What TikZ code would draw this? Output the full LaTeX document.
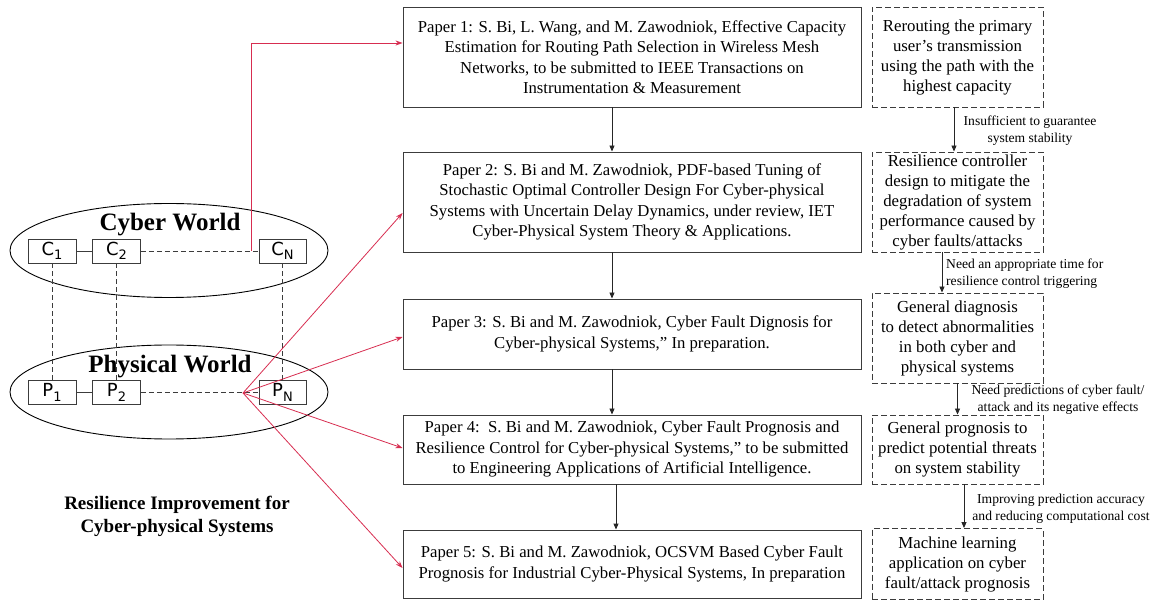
\documentclass[tikz,border=0pt]{standalone}
\usepackage{fontspec}
\setmainfont{Liberation Serif}
\newfontfamily\labelsans{DejaVu Sans}
\usetikzlibrary{arrows.meta,shapes.geometric}

% lowered index for the node names C_i, P_i
\newcommand{\lowidx}[1]{\raisebox{-0.45ex}{\fontsize{13}{13}\selectfont #1}}

\definecolor{boxline}{RGB}{60,60,60}
\definecolor{linkred}{RGB}{215,45,80}

\tikzset{
  paper/.style={draw=boxline, line width=0.9pt, minimum width=458pt, align=center,
    inner sep=0pt, font=\fontsize{16.7}{20.5}\selectfont},
  note/.style={draw=boxline, line width=0.9pt, dash pattern=on 6pt off 3pt,
    minimum width=171pt, align=center, inner sep=0pt, font=\fontsize{16.8}{20}\selectfont},
  cell/.style={draw=boxline, line width=0.9pt, minimum width=48pt, minimum height=24pt,
    inner sep=0pt, font=\labelsans\fontsize{18}{18}\selectfont},
  world/.style={draw=black, line width=0.9pt, ellipse, minimum width=318pt,
    minimum height=94pt, inner sep=0pt},
  worldname/.style={font=\bfseries\fontsize{25}{25}\selectfont, inner sep=0pt},
  tip/.style={-{Triangle[length=6pt,width=5pt]}, line width=0.9pt, draw=black!85},
  redtip/.style={-{Stealth[length=7pt,width=5pt]}, line width=0.8pt, draw=linkred},
  linklabel/.style={align=center, inner sep=0pt, font=\fontsize{13.6}{17}\selectfont},
  dashlink/.style={draw=boxline, line width=0.9pt, dash pattern=on 5pt off 3pt},
}

\begin{document}
\begin{tikzpicture}[x=1pt,y=-1pt]
\useasboundingbox (0,0) rectangle (1160,601);

% ---- papers ----
\node[paper, minimum height=100pt] (p1) at (632,57)
  {Paper 1: S. Bi, L. Wang, and M. Zawodniok, Effective Capacity\\
   Estimation for Routing Path Selection in Wireless Mesh\\
   Networks, to be submitted to IEEE Transactions on\\
   Instrumentation \& Measurement};
\node[paper, minimum height=100pt] (p2) at (632,202)
  {Paper 2: S. Bi and M. Zawodniok, PDF-based Tuning of\\
   Stochastic Optimal Controller Design For Cyber-physical\\
   Systems with Uncertain Delay Dynamics, under review, IET\\
   Cyber-Physical System Theory \& Applications.};
\node[paper, minimum height=70pt] (p3) at (632,334)
  {Paper 3: S. Bi and M. Zawodniok, Cyber Fault Dignosis for\\
   Cyber-physical Systems,” In preparation.};
\node[paper, minimum height=69pt] (p4) at (632,449.5)
  {Paper 4:\ \ S. Bi and M. Zawodniok, Cyber Fault Prognosis and\\
   Resilience Control for Cyber-physical Systems,” to be submitted\\
   to Engineering Applications of Artificial Intelligence.};
\node[paper, minimum height=68pt] (p5) at (632,564)
  {Paper 5: S. Bi and M. Zawodniok, OCSVM Based Cyber Fault\\
   Prognosis for Industrial Cyber-Physical Systems, In preparation};

\draw[tip] ([xshift=-20pt]p1.south) -- ([xshift=-20pt]p2.north);
\draw[tip] ([xshift=-20pt]p2.south) -- ([xshift=-20pt]p3.north);
\draw[tip] ([xshift=-20pt]p3.south) -- ([xshift=-20pt]p4.north);
\draw[tip] ([xshift=-16pt]p4.south) -- ([xshift=-16pt]p5.north);

% ---- contributions ----
\node[note, minimum height=100pt] (n1) at (957.5,57)
  {Rerouting the primary\\user’s transmission\\using the path with the\\highest capacity};
\node[note, minimum height=100pt] (n2) at (957.5,202)
  {Resilience controller\\design to mitigate the\\degradation of system\\performance caused by\\cyber faults/attacks};
\node[note, minimum height=90pt] (n3) at (957.5,338)
  {General diagnosis\\to detect abnormalities\\in both cyber and\\physical systems};
\node[note, minimum height=69pt] (n4) at (957.5,449.5)
  {General prognosis to\\predict potential threats\\on system stability};
\node[note, minimum height=71pt] (n5) at (957.5,564)
  {Machine learning\\application on cyber\\fault/attack prognosis};

\draw[tip] ([xshift=-3.5pt]n1.south) -- ([xshift=-3.5pt]n2.north);
\draw[tip] ([xshift=-15.5pt]n2.south) -- ([xshift=-15.5pt]n3.north);
\draw[tip] ([xshift=0pt]n3.south) -- ([xshift=0pt]n4.north);
\draw[tip] ([xshift=6.5pt]n4.south) -- ([xshift=6.5pt]n5.north);

\node[linklabel] (l1) at (1030,131) {Insufficient to guarantee\\system stability};
\node[linklabel, align=left, anchor=west] (l2) at (946,274)
  {Need an appropriate time for\\resilience control triggering};
\node[linklabel] (l3) at (1058,400) {Need predictions of cyber fault/\\attack and its negative effects};
\node[linklabel] (l4) at (1061,509) {Improving prediction accuracy\\and reducing computational cost};

% ---- cyber and physical worlds ----
\node[world] (cw) at (169,250.5) {};
\node[world] (pw) at (169,392) {};
\node[worldname] (cwname) at (170,225) {Cyber World};
\node[worldname] (pwname) at (170,367) {Physical World};

\node[cell] (c1) at (52,251) {C\lowidx{1}};
\node[cell] (c2) at (116.5,251) {C\lowidx{2}};
\node[cell, minimum width=47pt] (cn) at (282.5,251) {C\lowidx{N}};
\node[cell] (q1) at (52,392.5) {P\lowidx{1}};
\node[cell] (q2) at (116.5,392.5) {P\lowidx{2}};
\node[cell, minimum width=47pt] (qn) at (282.5,392.5) {P\lowidx{N}};

\draw[boxline, line width=0.9pt] (c1) -- (c2);
\draw[dashlink] (c2) -- (cn);
\draw[boxline, line width=0.9pt] (q1) -- (q2);
\draw[dashlink] (q2) -- (qn);
\draw[dashlink] (c1) -- (q1);
\draw[dashlink] (c2) -- (q2);
\draw[dashlink] (cn) -- (qn);

% ---- links from the worlds to the papers ----
\coordinate (cyj) at (251,251);
\coordinate (phj) at (243,393);
\draw[redtip] (cyj) |- ([yshift=14pt]p1.west);
\draw[redtip] (phj) -- ([yshift=-11pt]p2.west);
\draw[redtip] (phj) -- ([yshift=-3pt]p3.west);
\draw[redtip] (phj) -- ([yshift=1.5pt]p4.west);
\draw[redtip] (phj) -- ([yshift=-4pt]p5.west);

\node[align=center, inner sep=0pt, font=\bfseries\fontsize{19}{23}\selectfont] (title) at (177,516)
  {Resilience Improvement for\\Cyber-physical Systems};
\end{tikzpicture}
\end{document}
